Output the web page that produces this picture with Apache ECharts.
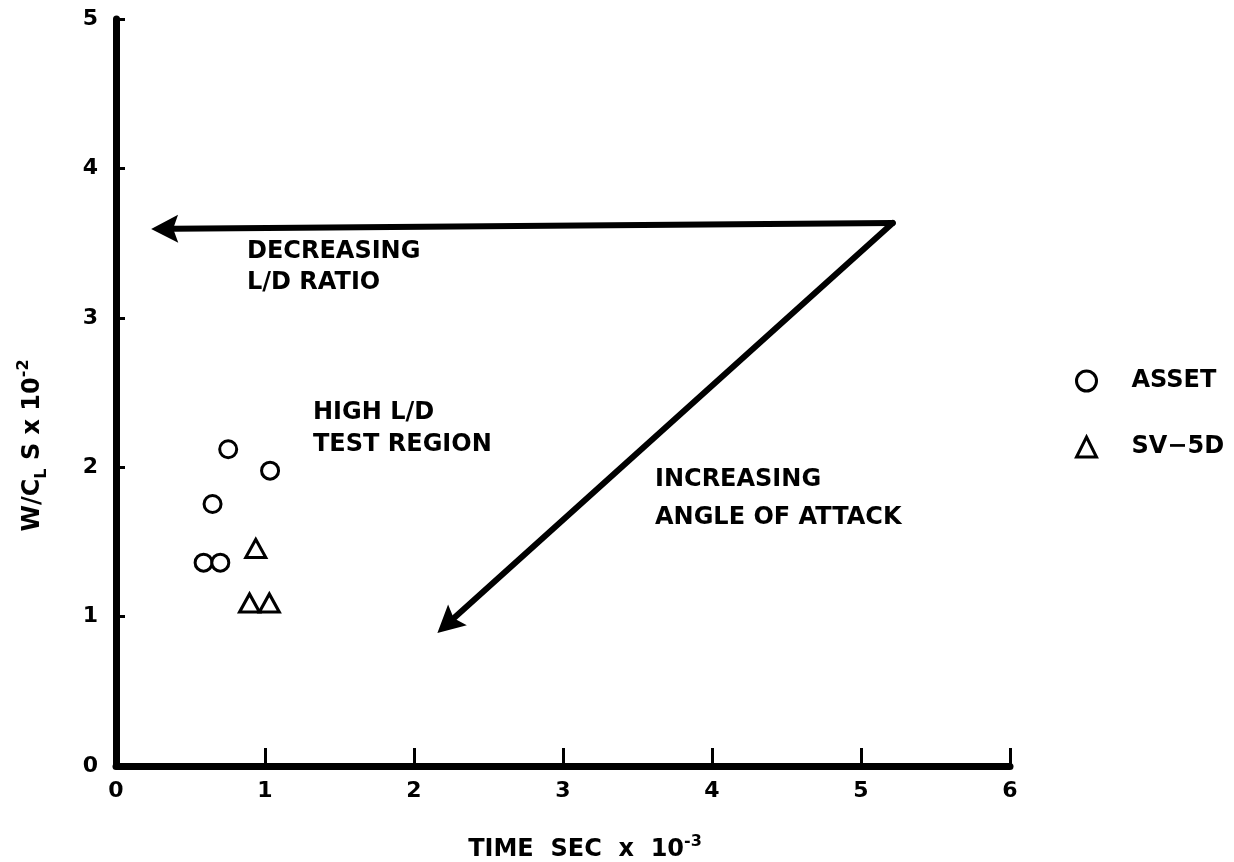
<!DOCTYPE html>
<html><head><meta charset="utf-8">
<script src="https://cdn.jsdelivr.net/npm/echarts/dist/echarts.min.js"></script>
<style>html,body{margin:0;padding:0;background:#fff}#c{width:1234px;height:862px}</style>
</head><body><div id="c"></div>
<script>
// ---- data ----
const xTickLabels = ['0','1','2','3','4','5','6'];
const yTickLabels = ['0','1','2','3','4','5'];
const seriesNames = ['ASSET', 'SV-5D'];
const assetPoints = [[0.753,2.12],[1.034,1.977],[0.648,1.754],[0.588,1.361],[0.70,1.361]];
const sv5dPoints = [[0.938,1.456],[0.896,1.091],[1.029,1.091]];
// arrows: [xStart, yStart, xEnd(tip), yEnd(tip)]
const arrowLD = [5.213,3.635,0.236,3.594];
const arrowAoA = [5.213,3.635,2.157,0.89];
const noteLD = ['DECREASING', 'L/D RATIO'];
const noteRegion = ['HIGH L/D', 'TEST REGION'];
const noteAoA = ['INCREASING', 'ANGLE OF ATTACK'];

const FONT = 'DejaVu Sans';
const chart = echarts.init(document.getElementById('c'), null, {renderer: 'canvas'});

function txt(text, x, y) {
  return {type: 'text', x: x, y: y, silent: true,
    style: {text: text, fill: '#000', font: 'bold 24px "' + FONT + '"', verticalAlign: 'middle', align: 'left'}};
}

const option = {
  backgroundColor: '#fff',
  animation: false,
  grid: {left: 116, right: 224, top: 19, bottom: 96, containLabel: false, outerBoundsMode: 'none'},
  xAxis: {
    type: 'value', min: 0, max: 6, interval: 1,
    axisLine: {show: true, onZero: false, lineStyle: {color: '#000', width: 7}},
    axisTick: {show: true, inside: true, length: 18, lineStyle: {color: '#000', width: 3}},
    splitLine: {show: false},
    axisLabel: {color: '#000', fontSize: 22, fontWeight: 'bold', fontFamily: FONT, margin: 14,
      formatter: v => xTickLabels[Math.round(v)]},
    name: 'TIME  SEC  x  10{sup|-3}',
    nameLocation: 'middle', nameGap: 68,
    nameTextStyle: {color: '#000', fontSize: 24, fontWeight: 'bold', fontFamily: FONT, padding: [0, 0, 0, 44],
      lineHeight: 32,
      rich: {sup: {fontSize: 16, fontWeight: 'bold', fontFamily: FONT, color: '#000', verticalAlign: 'top', lineHeight: 32}}}
  },
  yAxis: {
    type: 'value', min: 0, max: 5, interval: 1,
    axisLine: {show: true, onZero: false, lineStyle: {color: '#000', width: 7}},
    axisTick: {show: true, inside: true, length: 9, lineStyle: {color: '#000', width: 3}},
    splitLine: {show: false},
    axisLabel: {color: '#000', fontSize: 22, fontWeight: 'bold', fontFamily: FONT, margin: 18,
      formatter: v => yTickLabels[Math.round(v)]},
    name: 'W/C{sub|L} S x 10{sup|-2}',
    nameLocation: 'middle', nameGap: 66, nameRotate: 90,
    nameTextStyle: {color: '#000', fontSize: 24, fontWeight: 'bold', fontFamily: FONT, padding: [0, 106, 0, 0],
      lineHeight: 34,
      rich: {
        sub: {fontSize: 16, fontWeight: 'bold', fontFamily: FONT, color: '#000', verticalAlign: 'bottom', lineHeight: 34},
        sup: {fontSize: 16, fontWeight: 'bold', fontFamily: FONT, color: '#000', verticalAlign: 'top', lineHeight: 34}
      }}
  },
  legend: {
    data: seriesNames, orient: 'vertical', left: 1070, top: 364, itemGap: 42,
    itemWidth: 20, itemHeight: 20,
    itemStyle: {color: '#fff', borderColor: '#000', borderWidth: 3},
    formatter: n => n.replace('-', '\u2212'),
    textStyle: {color: '#000', fontSize: 24, fontWeight: 'bold', fontFamily: FONT, padding: [0, 0, 0, 30]}
  },
  series: [
    {name: seriesNames[0], type: 'scatter', data: assetPoints, symbol: 'circle', symbolSize: 17,
      itemStyle: {color: '#fff', borderColor: '#000', borderWidth: 3, opacity: 1}},
    {name: seriesNames[1], type: 'scatter', data: sv5dPoints, symbol: 'triangle', symbolSize: [20, 18],
      itemStyle: {color: '#fff', borderColor: '#000', borderWidth: 3, opacity: 1}},
    {name: 'arrows', type: 'custom', coordinateSystem: 'cartesian2d', clip: false, silent: true,
      encode: {x: [0, 2], y: [1, 3]},
      data: [arrowLD, arrowAoA],
      renderItem: function (params, api) {
        const p0 = api.coord([api.value(0), api.value(1)]);
        const p1 = api.coord([api.value(2), api.value(3)]);
        const dx = p1[0] - p0[0], dy = p1[1] - p0[1];
        const len = Math.hypot(dx, dy); const ux = dx / len, uy = dy / len;
        const nx = -uy, ny = ux;
        const L = 27, W = 14, notch = 5;
        const bx = p1[0] - ux * L, by = p1[1] - uy * L;
        const nxp = bx + ux * notch, nyp = by + uy * notch;
        return {type: 'group', children: [
          {type: 'line', shape: {x1: p0[0], y1: p0[1], x2: nxp, y2: nyp},
            style: {stroke: '#000', lineWidth: 6, lineCap: 'round'}},
          {type: 'polygon', shape: {points: [[p1[0], p1[1]], [bx + nx * W, by + ny * W], [nxp, nyp], [bx - nx * W, by - ny * W]]},
            style: {fill: '#000'}}
        ]};
      }}
  ],
  graphic: [
    txt(noteLD[0], 247, 252), txt(noteLD[1], 247, 283),
    txt(noteRegion[0], 313, 413), txt(noteRegion[1], 313, 445),
    txt(noteAoA[0], 655, 480), txt(noteAoA[1], 655, 518)
  ]
};
chart.setOption(option);
</script></body></html>
